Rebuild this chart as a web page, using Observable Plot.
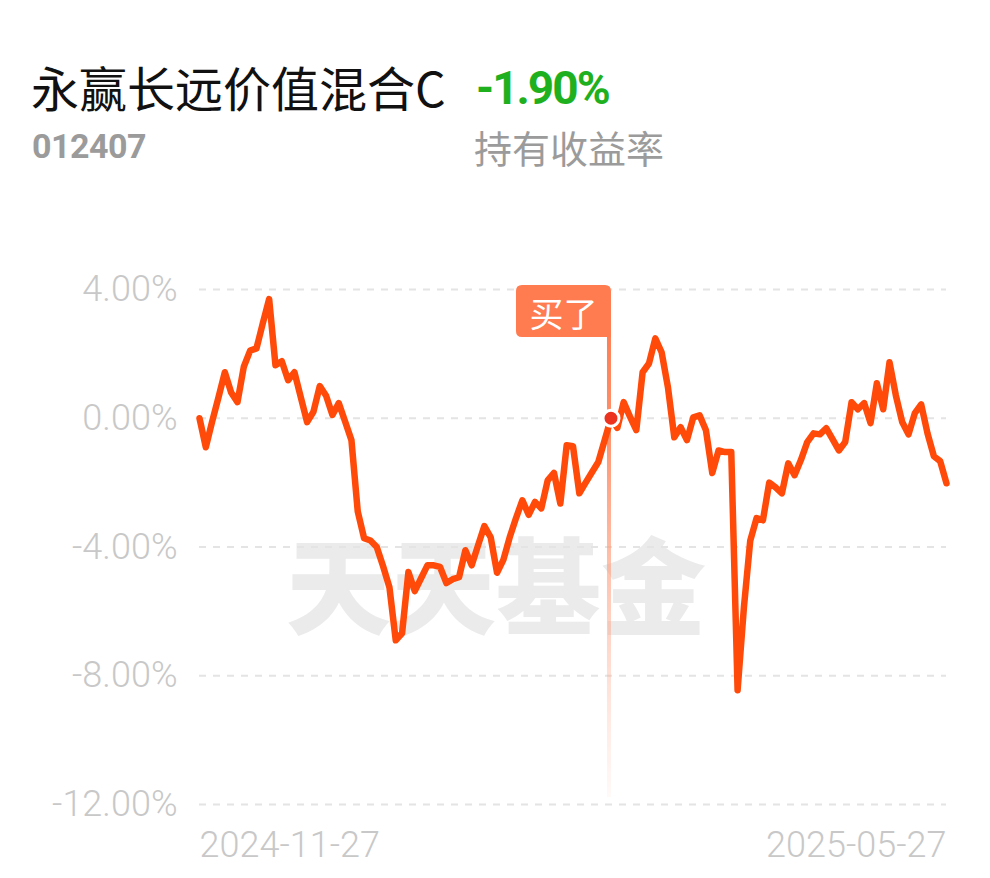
<!DOCTYPE html>
<html><head><meta charset="utf-8">
<script src="https://cdn.jsdelivr.net/npm/d3@7"></script>
<script src="https://cdn.jsdelivr.net/npm/@observablehq/plot@0.6"></script>
<style>
html,body{margin:0;padding:0;background:#fff}
body{width:990px;height:878px;overflow:hidden;position:relative;font-family:"Noto Sans CJK SC","Noto Sans",sans-serif}
.abs{position:absolute;white-space:nowrap;line-height:1}
#title{left:31px;top:62px;font-size:48px;color:#111}
#ret{left:476px;top:65px;font-size:46px;font-weight:700;color:#1fb020;font-family:Roboto,"Noto Sans",sans-serif;letter-spacing:-2px}
#code{left:32px;top:129px;font-size:34px;font-weight:700;color:#9b9b9b;font-family:Roboto,"Noto Sans",sans-serif;letter-spacing:-0.5px}
#sub{left:474px;top:128px;font-size:38px;color:#9b9b9b}
#wm{left:286px;top:528px;font-size:105px;font-weight:900;color:#ebebeb;letter-spacing:0}
#chart{position:absolute;left:0;top:180px}
</style>
</head><body>
<div class="abs" id="title">永赢长远价值混合C</div>
<div class="abs" id="ret">-1.90%</div>
<div class="abs" id="code">012407</div>
<div class="abs" id="sub">持有收益率</div>
<div class="abs" id="wm">天天基金</div>
<div id="chart"></div>
<script>
// holding return (%) per trading day, 2024-11-27 .. 2025-05-27
const values = [
  0.0, -0.9, -0.1, 0.65, 1.43, 0.8, 0.5, 1.6, 2.1, 2.17,
  2.95, 3.7, 1.65, 1.77, 1.18, 1.43, 0.65, -0.12, 0.2, 1.0,
  0.7, 0.1, 0.47, -0.1, -0.68, -2.9, -3.73, -3.8, -4.0, -4.6,
  -5.25, -6.9, -6.68, -4.78, -5.37, -4.97, -4.57, -4.57, -4.62, -5.12,
  -5.0, -4.94, -4.1, -4.57, -3.95, -3.35, -3.7, -4.8, -4.4, -3.7,
  -3.1, -2.55, -3.0, -2.6, -2.8, -1.93, -1.7, -2.65, -0.84, -0.87,
  -2.33, -2.0, -1.68, -1.36, -0.68, 0.0, -0.3, 0.5, 0.05, -0.37,
  1.43, 1.7, 2.48, 2.05, 0.96, -0.59, -0.28, -0.68, 0.03, 0.09,
  -0.37, -1.7, -1.0, -1.05, -1.05, -8.45, -5.87, -3.8, -3.1, -3.17,
  -2.0, -2.15, -2.33, -1.4, -1.77, -1.3, -0.74, -0.47, -0.5, -0.31,
  -0.65, -1.0, -0.74, 0.5, 0.28, 0.47, -0.15, 1.09, 0.28, 1.74,
  0.71, -0.12, -0.5, 0.16, 0.43, -0.47, -1.18, -1.33, -2.02
];
const xTickLabels = ["2024-11-27", "2025-05-27"];
const yTicks = [4, 0, -4, -8, -12];
const buyIndex = 65;
const buyLabel = "买了";

const data = values.map((v, i) => ({i, v}));
const lastIndex = values.length - 1;

const chart = Plot.plot({
  width: 990, height: 698,
  marginLeft: 199, marginRight: 44, marginTop: 109, marginBottom: 74,
  x: {domain: [0, lastIndex], axis: null},
  y: {domain: [-12, 4], axis: null},
  style: {background: "transparent", fontFamily: "Roboto, 'Noto Sans', sans-serif"},
  marks: [
    Plot.ruleY(yTicks, {stroke: "#e4e4e4", strokeWidth: 2, strokeDasharray: "7,7"}),
    Plot.text(yTicks, {y: d => d, frameAnchor: "left", dx: -22, textAnchor: "end",
      text: d => d.toFixed(2) + "%", fill: "#c8c8c8", fontSize: 36, fontWeight: 300}),
    Plot.text([xTickLabels[0]], {x: 0, frameAnchor: "bottom", dy: 52, textAnchor: "start", text: d => d, fill: "#c8c8c8", fontSize: 36, fontWeight: 300}),
    Plot.text([xTickLabels[1]], {x: lastIndex, frameAnchor: "bottom", dy: 52, textAnchor: "end", text: d => d, fill: "#c8c8c8", fontSize: 36, fontWeight: 300}),
    Plot.line(data, {x: "i", y: "v", stroke: "#ff4a0a", strokeWidth: 6.5, strokeLinejoin: "round", strokeLinecap: "round"}),
    Plot.dot([buyIndex], {x: d => d, y: d => values[d], r: 8, fill: "#ec3320", stroke: "#fff", strokeWidth: 3})
  ]
});
document.getElementById("chart").appendChild(chart);

const svg = d3.select(chart);
const sx = chart.scale("x"), sy = chart.scale("y");
const bx = sx.apply(buyIndex) - 1.5;
const yTop = sy.apply(yTicks[0]);
const yBot = sy.apply(yTicks[yTicks.length - 1]);
const defs = svg.insert("defs", ":first-child");
const grad = defs.append("linearGradient").attr("id", "buyGrad")
  .attr("gradientUnits", "userSpaceOnUse").attr("x1", 0).attr("x2", 0)
  .attr("y1", yTop + 48).attr("y2", yBot - 7);
grad.append("stop").attr("offset", 0).attr("stop-color", "#ff7f55").attr("stop-opacity", 1);
grad.append("stop").attr("offset", 0.2).attr("stop-color", "#ff8a62").attr("stop-opacity", 0.95);
grad.append("stop").attr("offset", 1).attr("stop-color", "#ffb7a0").attr("stop-opacity", 0.08);

const lineG = svg.select("[aria-label=line]").node();
const g = svg.insert("g", () => lineG);
g.append("line").attr("x1", bx).attr("x2", bx).attr("y1", yTop + 46).attr("y2", yBot - 7)
  .attr("stroke", "url(#buyGrad)").attr("stroke-width", 4);
const x0 = bx - 93, x1 = bx + 2, y0 = yTop - 4, y1 = yTop + 48, r = 6;
g.append("path").attr("fill", "#ff7b50")
  .attr("d", `M${x0 + r},${y0} H${x1 - r} Q${x1},${y0} ${x1},${y0 + r} V${y1} H${x0 + r} Q${x0},${y1} ${x0},${y1 - r} V${y0 + r} Q${x0},${y0} ${x0 + r},${y0} Z`);
g.append("text").attr("x", (x0 + x1) / 2).attr("y", (y0 + y1) / 2 + 1)
  .attr("text-anchor", "middle").attr("dominant-baseline", "central")
  .attr("fill", "#fff").attr("font-size", 34).attr("font-family", "'Noto Sans CJK SC', sans-serif")
  .text(buyLabel);
</script>
</body></html>
